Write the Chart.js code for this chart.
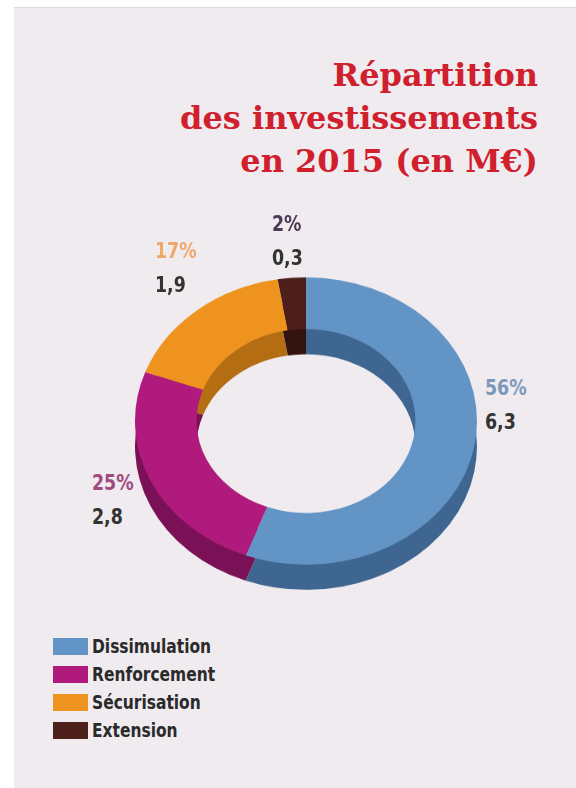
<!DOCTYPE html>
<html>
<head>
<meta charset="utf-8">
<script src="https://cdn.jsdelivr.net/npm/chart.js@4"></script>
<style>
    body { margin: 0; width: 576px; height: 788px; background: #fff; position: relative; overflow: hidden; }
    #panel { position: absolute; left: 14px; top: 7px; right: 0; bottom: 0; background: #efebef; border-top: 1px solid #dcd8dc; }
    #title { position: absolute; right: 38px; top: 54px; text-align: right; color: #d0202d;
        font: bold 32px/43px "DejaVu Serif", serif; white-space: nowrap; }
    #pie { position: absolute; left: 135px; top: 250px; width: 342px; height: 372px; transform: scaleY(0.84); transform-origin: 171px 171px; }
    #pie canvas { position: absolute; left: 0; }
    #side { top: 30px; }
    #front { top: 0; }
    .lbl { position: absolute; font: bold 22px/34px "DejaVu Sans Condensed", "Liberation Sans Narrow", "Roboto Condensed", sans-serif;
        white-space: nowrap; transform: scaleX(0.88); transform-origin: 0 0; }
    .lbl .val { color: #333; }
    #legend { position: absolute; left: 53px; top: 638px; }
    .row { height: 28px; display: flex; align-items: flex-start; }
    .sw { width: 35px; height: 17px; margin-right: 4px; }
    .row span { display: inline-block; font: bold 20px/17px "DejaVu Sans Condensed", "Liberation Sans Narrow", sans-serif; color: #2a2a2a;
        transform: scaleX(0.86); transform-origin: 0 0; }
</style>
</head>
<body>
<div id="panel"></div>
<div id="title">Répartition<br>des investissements<br>en 2015 (en M€)</div>
<div id="pie">
    <canvas id="side" width="342" height="342"></canvas>
    <canvas id="front" width="342" height="342"></canvas>
</div>
<div id="labels"></div>
<div id="legend"></div>

<script>
const categories = ['Dissimulation', 'Renforcement', 'Sécurisation', 'Extension'];
const values = [6.3, 2.8, 1.9, 0.3];
const percentLabels = ['56%', '25%', '17%', '2%'];

const topColors = ['#6394c6', '#b01a7c', '#ef931f', '#4d1f1b'];
const sideColors = ['#3f6690', '#7a1056', '#b56d14', '#33130f'];
const labelColors = ['#7d98bd', '#a04a80', '#f0a868', '#4a3a55'];
// where each label block sits (left, top)
const labelPos = [[485, 371], [92, 466], [155, 234], [272, 207]];

function makeDonut(id, colors) {
    return new Chart(document.getElementById(id), {
        type: 'doughnut',
        data: {
            labels: categories,
            datasets: [{
                data: values,
                backgroundColor: colors,
                borderWidth: 0
            }]
        },
        options: {
            responsive: false,
            animation: false,
            cutout: '64%',
            layout: { padding: 0 },
            plugins: {
                legend: { display: false },
                tooltip: { enabled: false }
            }
        }
    });
}

// darker copy under the top one gives the 3d edge
makeDonut('side', sideColors);
makeDonut('front', topColors);

let labelsHtml = '';
values.forEach(function (v, i) {
    labelsHtml += '<div class="lbl" style="left:' + labelPos[i][0] + 'px;top:' + labelPos[i][1] + 'px">';
    labelsHtml += '<div style="color:' + labelColors[i] + '">' + percentLabels[i] + '</div>';
    labelsHtml += '<div class="val">' + v.toFixed(1).replace('.', ',') + '</div>';
    labelsHtml += '</div>';
});
document.getElementById('labels').innerHTML = labelsHtml;

let legendHtml = '';
categories.forEach(function (c, i) {
    legendHtml += '<div class="row"><div class="sw" style="background:' + topColors[i] + '"></div><span>' + c + '</span></div>';
});
document.getElementById('legend').innerHTML = legendHtml;
</script>
</body>
</html>
